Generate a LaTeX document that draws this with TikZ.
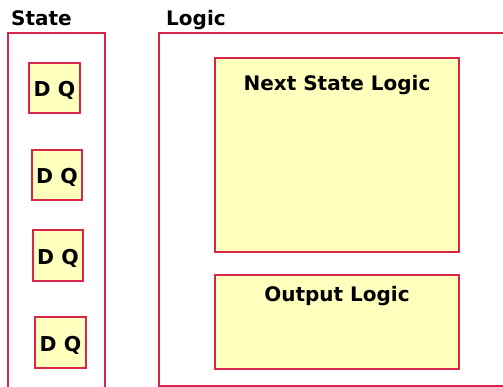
\documentclass[tikz,border=0pt]{standalone}
\usepackage{fontspec}
\setmainfont{DejaVu Sans}
\begin{document}
\begin{tikzpicture}[x=1pt,y=-1pt,
  frame/.style={draw=bordred, line width=1.3pt, fill=white},
  ybox/.style={draw=bordred, line width=1.3pt, fill=boxyellow, inner sep=0pt},
  lbl/.style={font=\bfseries\fontsize{20}{22}\selectfont, inner sep=0pt},
  dq/.style={font=\bfseries\fontsize{20.5}{22}\selectfont, inner sep=0pt}]
\definecolor{bordred}{HTML}{D8254A}
\definecolor{boxyellow}{HTML}{FFFFBE}
\useasboundingbox (0,0) rectangle (503,387);
\clip (0,0) rectangle (503,387);
% outer frames
\draw[frame] (8,33) rectangle (105,395);
\draw[frame] (159,33) rectangle (510,386);
\node[lbl, anchor=base west] (state) at (11,26) {State};
\node[lbl, anchor=base west] (logic) at (166,26) {Logic};
% flip-flops
\node[ybox, minimum width=51pt, minimum height=50pt] (ff1) at (54.5,88) {};
\node[dq, anchor=base] at ([yshift=-9pt]ff1.center) {D Q};
\node[ybox, minimum width=50pt, minimum height=50pt] (ff2) at (57,175) {};
\node[dq, anchor=base] at ([yshift=-9pt]ff2.center) {D Q};
\node[ybox, minimum width=50pt, minimum height=51pt] (ff3) at (58,255.5) {};
\node[dq, anchor=base] at ([yshift=-9pt]ff3.center) {D Q};
\node[ybox, minimum width=51pt, minimum height=51pt] (ff4) at (60.5,342.5) {};
\node[dq, anchor=base] at ([yshift=-9pt]ff4.center) {D Q};
% logic blocks
\node[ybox, minimum width=244pt, minimum height=194pt] (nsl) at (337,155) {};
\node[lbl, anchor=base] at ([yshift=-33pt]nsl.north) {Next State Logic};
\node[ybox, minimum width=244pt, minimum height=94pt] (ol) at (337,322) {};
\node[lbl, anchor=base] at ([yshift=-27pt]ol.north) {Output Logic};
\end{tikzpicture}
\end{document}
